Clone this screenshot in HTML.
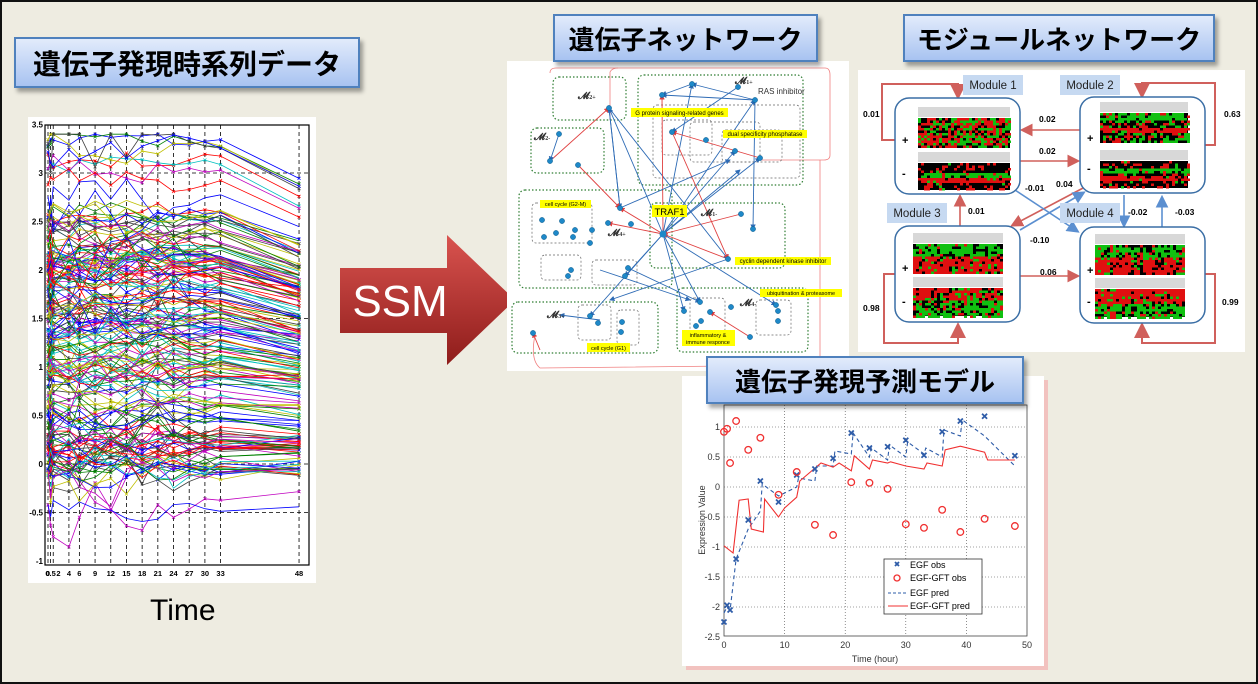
<!DOCTYPE html>
<html><head><meta charset="utf-8"><style>
html,body{margin:0;padding:0;}
body{width:1258px;height:684px;overflow:hidden;background:#eeece1;font-family:"Liberation Sans","Noto Sans CJK JP",sans-serif;}
#frame{position:absolute;left:0;top:0;width:1254px;height:680px;border:2px solid #111;}
.title{position:absolute;background:linear-gradient(#e2ebfb,#a8c3f1);border:2px solid #4f81bd;box-shadow:3px 4px 4px rgba(0,0,0,0.35);font-weight:bold;color:#000;font-family:"Liberation Sans","Noto Sans CJK JP",sans-serif;display:flex;align-items:center;justify-content:center;box-sizing:border-box;white-space:nowrap;}
svg{position:absolute;left:0;top:0;}
</style></head><body>
<div id="frame"></div>
<svg id="s" width="1258" height="684" xmlns="http://www.w3.org/2000/svg" font-family="Liberation Sans, sans-serif">
<defs>
<linearGradient id="ar" x1="0" y1="0" x2="0" y2="1"><stop offset="0" stop-color="#d9534f"/><stop offset="1" stop-color="#8e1c1a"/></linearGradient>
<marker id="mb" markerWidth="6" markerHeight="6" refX="5" refY="3" orient="auto"><path d="M0,0 L6,3 L0,6 z" fill="#2e6bb5"/></marker>
<marker id="mr" markerWidth="6" markerHeight="6" refX="5" refY="3" orient="auto"><path d="M0,0 L6,3 L0,6 z" fill="#e04040"/></marker>
<marker id="mbb" markerWidth="8" markerHeight="8" refX="6" refY="4" orient="auto"><path d="M0,0 L8,4 L0,8 z" fill="#5b8fd0"/></marker>
<marker id="mrr" markerWidth="8" markerHeight="8" refX="6" refY="4" orient="auto"><path d="M0,0 L8,4 L0,8 z" fill="#d0605c"/></marker>
</defs>
<rect x="28" y="117" width="288" height="466" fill="#fff"/>
<g id="left"></g>
<text x="150" y="620" font-size="30" fill="#000">Time</text>
<polygon points="340,268 447,268 447,235 515,300 447,365 447,333 340,333" fill="url(#ar)"/>
<text x="400" y="316" font-size="44" fill="#fff" text-anchor="middle">SSM</text>
<rect x="507" y="61" width="342" height="310" fill="#fff"/>
<g id="net"></g>
<rect x="858" y="70" width="387" height="282" fill="#fff"/>
<g id="mod"></g>
<rect x="686" y="380" width="362" height="290" fill="#f4b0b0" opacity="0.7"/>
<rect x="682" y="376" width="362" height="290" fill="#fff"/>
<g id="pred"></g>
</svg>
<div class="title" style="left:14px;top:37px;width:346px;height:51px;font-size:28px;">遺伝子発現時系列データ</div>
<div class="title" style="left:553px;top:14px;width:265px;height:48px;font-size:26px;">遺伝子ネットワーク</div>
<div class="title" style="left:903px;top:14px;width:312px;height:48px;font-size:26px;">モジュールネットワーク</div>
<div class="title" style="left:706px;top:356px;width:318px;height:48px;font-size:26px;">遺伝子発現予測モデル</div>
<script>
var seed=7;function R(){seed=(seed*16807)%2147483647;return (seed-1)/2147483646;}
function $(id){return document.getElementById(id);}
(function(){
var s='';var T=[0,0.5,1,4,6,9,12,15,18,21,24,27,30,33,48];
function X(t){return 48+t*5.23;} function Y(v){return 464-v*97;}
s+='<rect x="45" y="125" width="264" height="440" fill="none" stroke="#000" stroke-width="1.2"/>';
T.forEach(function(t){s+='<line x1="'+X(t)+'" y1="125" x2="'+X(t)+'" y2="565" stroke="#000" stroke-dasharray="4,3" stroke-width="0.8"/>';});
[3,1.5,0,-0.5].forEach(function(v){s+='<line x1="45" y1="'+Y(v)+'" x2="309" y2="'+Y(v)+'" stroke="#000" stroke-dasharray="4,3" stroke-width="0.8"/>';});
var cols=['#0000ff','#008000','#ff0000','#00bfbf','#bf00bf','#bfbf00','#404040'];
for(var i=0;i<200;i++){
 var b;var r=R();
 if(i<8)b=2.9+R()*0.45;else if(r<0.85)b=-0.1+R()*2.7;else b=-0.5+R()*3.5;
 var big=R()<0.2;
 var p='';var mk='';var c=cols[i%7];var prev=b;
 for(var k=0;k<T.length;k++){
  var amp=(k>0&&k<11)?(big?0.3:0.12):0.06;
  var v=0.5*prev+0.5*b+(R()-0.5)*amp*2;
  if(k==14)v=b*0.88+(R()-0.5)*0.15;
  if(v>3.4)v=3.4;if(v<-0.95)v=-0.95;prev=v;
  var x=X(T[k]),y=Y(v);p+=(k?' L':'M')+x.toFixed(1)+','+y.toFixed(1);
  if(i<120)mk+='<path d="M'+(x-1.5)+','+(y-1.5)+'l3,3m0,-3l-3,3" stroke="'+c+'" stroke-width="0.7"/>';
 }
 s+='<path d="'+p+'" fill="none" stroke="'+c+'" stroke-width="0.8"/>'+mk;
}
var yl=[['3.5',3.5],['3',3],['2.5',2.5],['2',2],['1.5',1.5],['1',1],['0.5',0.5],['0',0],['-0.5',-0.5],['-1',-1]];
yl.forEach(function(a){s+='<text x="43" y="'+(Y(a[1])+3)+'" font-size="8" font-weight="bold" text-anchor="end">'+a[0]+'</text>';});
var xl=[[0,'0'],[0.5,'0.5'],[2,'2'],[4,'4'],[6,'6'],[9,'9'],[12,'12'],[15,'15'],[18,'18'],[21,'21'],[24,'24'],[27,'27'],[30,'30'],[33,'33'],[48,'48']];
xl.forEach(function(a){s+='<text x="'+X(a[0])+'" y="576" font-size="7.5" font-weight="bold" text-anchor="middle">'+a[1]+'</text>';});
$('left').innerHTML=s;
})();
(function(){
var s='';
s+='<path d="M550,73 Q550,68 556,68 L825,68 Q830,68 830,75 L830,155 Q830,160 824,160 L760,160" fill="none" stroke="#f08080" stroke-width="0.8"/>';
s+='<path d="M610,120 L610,72 Q612,68 618,68" fill="none" stroke="#f08080" stroke-width="0.8"/>';
s+='<path d="M820,160 L820,365 L540,368 Q530,360 535,335" fill="none" stroke="#f08080" stroke-width="0.8"/>';
var boxes=[[553,77,73,43],[638,75,165,110],[531,128,73,45],[519,190,153,98],[650,203,135,65],[512,302,146,51],[677,288,131,64]];
boxes.forEach(function(b){s+='<rect x="'+b[0]+'" y="'+b[1]+'" width="'+b[2]+'" height="'+b[3]+'" rx="6" fill="none" stroke="#2e7d32" stroke-width="1.2" stroke-dasharray="1.5,2"/>';});
var gb=[[653,105,147,73],[662,120,50,35],[690,122,70,40],[722,130,60,32],[532,203,60,40],[541,255,40,25],[592,260,45,25],[690,298,35,35],[756,300,35,35],[578,305,33,35],[617,310,22,35]];
gb.forEach(function(b){s+='<rect x="'+b[0]+'" y="'+b[1]+'" width="'+b[2]+'" height="'+b[3]+'" rx="4" fill="none" stroke="#666" stroke-width="0.7" stroke-dasharray="2,2"/>';});
var nodes=[[692,84],[738,87],[662,95],[755,100],[609,108],[559,134],[550,161],[578,165],[672,132],[706,140],[735,151],[760,158],[620,208],[663,234],[741,214],[753,229],[728,259],[542,220],[562,221],[575,230],[592,230],[608,223],[631,224],[573,237],[556,233],[544,237],[590,243],[571,270],[568,276],[628,268],[625,276],[590,316],[598,323],[622,322],[621,332],[533,333],[684,311],[700,302],[710,312],[701,321],[731,307],[776,305],[778,311],[778,321],[750,337],[696,326]];
var L=[[663,234,692,84,'b'],[663,234,755,100,'b'],[663,234,609,108,'b'],[663,234,735,151,'b'],[663,234,760,158,'b'],[663,234,620,208,'r'],[741,214,663,234,'r'],[728,259,663,234,'r'],[663,234,700,302,'b'],[663,234,776,305,'b'],[663,234,684,311,'b'],[663,234,590,316,'b'],[663,234,625,276,'b'],[663,234,608,223,'r'],[609,108,728,259,'b'],[609,108,620,208,'b'],[620,208,609,108,'b'],[550,161,609,108,'r'],[559,134,550,161,'b'],[578,165,620,208,'r'],[692,84,662,95,'b'],[755,100,662,95,'b'],[755,100,692,84,'b'],[755,100,753,229,'b'],[738,87,672,132,'b'],[663,234,662,95,'r'],[672,132,728,259,'r'],[760,158,672,132,'r'],[728,259,610,300,'b'],[600,320,560,315,'b'],[628,268,700,302,'b'],[600,270,690,300,'b'],[750,337,710,312,'r'],[540,350,533,333,'r'],[620,208,730,160,'b'],[663,234,740,170,'b']];
L.forEach(function(l){var c=l[4]=='b'?'#2e6bb5':'#e04040';s+='<line x1="'+l[0]+'" y1="'+l[1]+'" x2="'+l[2]+'" y2="'+l[3]+'" stroke="'+c+'" stroke-width="0.9" marker-end="url(#m'+l[4]+')"/>';});
nodes.forEach(function(n){s+='<circle cx="'+n[0]+'" cy="'+n[1]+'" r="2.6" fill="#1e88c8" stroke="#0b5a8a" stroke-width="0.5"/>';});
s+='<circle cx="663" cy="234" r="3.5" fill="#1e88c8"/>';
var yl=[[652,205,35,12,'TRAF1',9.5],[631,108,97,9,'G protein signaling-related genes',6],[723,130,84,8,'dual specificity phosphatase',6],[540,200,51,8,'cell cycle (G2-M)',5.5],[735,257,96,8,'cyclin dependent kinase inhibitor',6],[760,289,82,8,'ubiquitination &amp; proteasome',5.5],[587,343,43,9,'cell cycle (G1)',5.5]];
yl.forEach(function(y){s+='<rect x="'+y[0]+'" y="'+y[1]+'" width="'+y[2]+'" height="'+y[3]+'" fill="#ffff00"/><text x="'+(y[0]+y[2]/2)+'" y="'+(y[1]+y[3]-2)+'" font-size="'+y[5]+'" text-anchor="middle">'+y[4]+'</text>';});
s+='<rect x="682" y="330" width="53" height="16" fill="#ffff00"/><text x="708" y="337" font-size="5.5" text-anchor="middle">inflammatory &amp;</text><text x="708" y="344" font-size="5.5" text-anchor="middle">immune responce</text>';
s+='<text x="758" y="94" font-size="8" fill="#333">RAS inhibitor</text>';
var ml=[[578,99,'M2+'],[735,84,'M1+'],[534,140,'M2-'],[608,236,'M4+'],[701,216,'M1-'],[547,318,'M3+'],[740,306,'M4-']];
ml.forEach(function(m){s+='<text x="'+m[0]+'" y="'+m[1]+'" font-size="10" font-family="Liberation Serif,serif" font-weight="bold" fill="#333">𝓜<tspan font-size="6">'+m[2].slice(1)+'</tspan></text>';});
$('net').innerHTML=s;
})();
(function(){
var s='';
function heat(x,y,w,h,mode){
 var o='<rect x="'+x+'" y="'+(y-11)+'" width="'+w+'" height="10" fill="#d8d8d8"/>';
 o+='<rect x="'+x+'" y="'+y+'" width="'+w+'" height="'+h+'" fill="#000"/>';
 var cw=3,ch=2.5;
 for(var yy=0;yy<h-0.1;yy+=ch)for(var xx=0;xx<w-0.1;xx+=cw){
  var r=R(),c=null;
  var bias=mode(yy/h,xx/w);
  if(r<bias[0])c='#e01010';else if(r<bias[0]+bias[1])c='#10c010';
  if(c)o+='<rect x="'+(x+xx)+'" y="'+(y+yy)+'" width="'+cw+'" height="'+ch+'" fill="'+c+'"/>';
 }
 return o;
}
function box(x,y){return '<rect x="'+x+'" y="'+y+'" width="125" height="96" rx="14" fill="#fff" stroke="#3a6ea5" stroke-width="1.5"/>';}
var red='#d0605c',blue='#5b8fd0';
s+='<path d="M895,140 L882,140 L882,84 L958,84 L958,96" fill="none" stroke="'+red+'" stroke-width="2" marker-end="url(#mrr)"/>';
s+='<path d="M1203,145 L1215,145 L1215,83 L1142,83 L1142,95" fill="none" stroke="'+red+'" stroke-width="2" marker-end="url(#mrr)"/>';
s+='<path d="M895,274 L884,274 L884,343 L958,343 L958,326" fill="none" stroke="'+red+'" stroke-width="2" marker-end="url(#mrr)"/>';
s+='<path d="M1205,274 L1215,274 L1215,343 L1142,343 L1142,326" fill="none" stroke="'+red+'" stroke-width="2" marker-end="url(#mrr)"/>';
s+='<line x1="1080" y1="130" x2="1023" y2="130" stroke="'+red+'" stroke-width="1.6" marker-end="url(#mrr)"/>';
s+='<line x1="1020" y1="161" x2="1077" y2="161" stroke="'+red+'" stroke-width="1.6" marker-end="url(#mrr)"/>';
s+='<line x1="1020" y1="276" x2="1077" y2="276" stroke="'+red+'" stroke-width="1.6" marker-end="url(#mrr)"/>';
s+='<line x1="960" y1="226" x2="960" y2="197" stroke="'+red+'" stroke-width="1.6" marker-end="url(#mrr)"/>';
s+='<line x1="1085" y1="187" x2="1013" y2="225" stroke="'+red+'" stroke-width="1.6" marker-end="url(#mrr)"/>';
s+='<line x1="1015" y1="190" x2="1077" y2="231" stroke="'+blue+'" stroke-width="1.6" marker-end="url(#mbb)"/>';
s+='<line x1="1020" y1="230" x2="1083" y2="193" stroke="'+blue+'" stroke-width="1.6" marker-end="url(#mbb)"/>';
s+='<line x1="1124" y1="195" x2="1124" y2="225" stroke="'+blue+'" stroke-width="1.6" marker-end="url(#mbb)"/>';
s+='<line x1="1162" y1="227" x2="1162" y2="198" stroke="'+blue+'" stroke-width="1.6" marker-end="url(#mbb)"/>';
s+=box(895,98)+box(1080,97)+box(895,226)+box(1080,227);
var A=function(){return [0.4,0.35];};
s+=heat(918,118,92,30,A);
s+=heat(918,163,92,27,function(a){return a>0.3&&a<0.5?[0.1,0.7]:a>0.55&&a<0.7?[0.8,0.05]:[0.25,0.05];});
s+=heat(1100,113,88,30,function(a){return a<0.25?[0.1,0.75]:a>0.45&&a<0.6?[0.8,0.05]:[0.2,0.3];});
s+=heat(1100,161,88,27,function(a){return a>0.25&&a<0.45?[0.05,0.8]:a>0.5&&a<0.65?[0.8,0.05]:[0.3,0.05];});
s+=heat(913,244,90,30,function(a){return a<0.35?[0.1,0.7]:[0.7,0.15];});
s+=heat(913,288,90,28,function(a){return a<0.4?[0.6,0.2]:[0.2,0.55];});
s+=heat(1095,245,90,30,function(a){return a<0.4?[0.15,0.55]:[0.7,0.1];});
s+=heat(1095,289,90,28,function(a){return a<0.45?[0.75,0.1]:[0.15,0.6];});
[[902,144,'+'],[902,177,'-'],[1087,142,'+'],[1087,172,'-'],[902,272,'+'],[902,305,'-'],[1087,274,'+'],[1087,305,'-']].forEach(function(p){s+='<text x="'+p[0]+'" y="'+p[1]+'" font-size="11" font-weight="bold">'+p[2]+'</text>';});
[[963,75,'Module 1'],[1060,75,'Module 2'],[887,203,'Module 3'],[1060,203,'Module 4']].forEach(function(m){s+='<rect x="'+m[0]+'" y="'+m[1]+'" width="60" height="20" fill="#c6d9f1"/><text x="'+(m[0]+30)+'" y="'+(m[1]+14)+'" font-size="11.5" text-anchor="middle" fill="#222">'+m[2]+'</text>';});
[[863,117,'0.01'],[1039,122,'0.02'],[1039,154,'0.02'],[1224,117,'0.63'],[1056,187,'0.04'],[1025,191,'-0.01'],[968,214,'0.01'],[1128,215,'-0.02'],[1175,215,'-0.03'],[1030,243,'-0.10'],[1040,275,'0.06'],[863,311,'0.98'],[1222,305,'0.99']].forEach(function(t){s+='<text x="'+t[0]+'" y="'+t[1]+'" font-size="8.5" font-weight="bold">'+t[2]+'</text>';});
$('mod').innerHTML=s;
})();
(function(){
var s='';function X(t){return 724+t*6.06;}function Y(v){return 487-v*60;}
s+='<rect x="724" y="405" width="303" height="231" fill="none" stroke="#444" stroke-width="0.8"/>';
for(var t=10;t<50;t+=10)s+='<line x1="'+X(t)+'" y1="405" x2="'+X(t)+'" y2="636" stroke="#444" stroke-width="0.6" stroke-dasharray="1,2"/>';
for(var v=-2;v<=1;v+=0.5)s+='<line x1="724" y1="'+Y(v)+'" x2="1027" y2="'+Y(v)+'" stroke="#444" stroke-width="0.6" stroke-dasharray="1,2"/>';
for(var t=0;t<=50;t+=10)s+='<text x="'+X(t)+'" y="648" font-size="9" text-anchor="middle" fill="#333">'+t+'</text>';
[1,0.5,0,-0.5,-1,-1.5,-2,-2.5].forEach(function(v){s+='<text x="720" y="'+(Y(v)+3)+'" font-size="9" text-anchor="end" fill="#333">'+v+'</text>';});
s+='<text x="875" y="662" font-size="9" text-anchor="middle" fill="#333">Time (hour)</text>';
s+='<text x="0" y="0" font-size="9" text-anchor="middle" fill="#333" transform="translate(705,520) rotate(-90)">Expression Value</text>';
var rp=[[0,-0.98],[1.5,-1.1],[2.5,-0.22],[4,-0.2],[4.5,-0.7],[6.5,-0.75],[6.7,-0.2],[9,-0.5],[10,-0.35],[12,-0.17],[12.5,0.1],[16,0.4],[18,0.33],[19,0.4],[21,0.27],[21.5,0.52],[24,0.3],[24.5,0.45],[27,0.4],[27.5,0.42],[30,0.35],[33,0.3],[33.5,0.4],[36,0.35],[36.5,0.62],[39,0.68],[43,0.58],[43.5,0.45],[48,0.45]];
var bp=[[0,-2.1],[0.5,-2.0],[1,-2.05],[2,-1.2],[4,-0.7],[6,-0.4],[6.3,0.05],[9,-0.15],[12,0],[12.3,0.15],[15,0.1],[15.3,0.35],[18,0.35],[18.3,0.6],[21,0.55],[21.3,0.9],[24,0.5],[24.3,0.65],[27,0.45],[27.3,0.7],[30,0.5],[30.3,0.75],[33,0.55],[33.3,0.65],[36,0.5],[36.3,0.95],[39,0.85],[39.3,1.12],[43,0.85],[48,0.35]];
function path(a){return a.map(function(p,i){return (i?'L':'M')+X(p[0]).toFixed(1)+','+Y(p[1]).toFixed(1);}).join(' ');}
s+='<path d="'+path(bp)+'" fill="none" stroke="#2e5ca8" stroke-width="1.1" stroke-dasharray="4,3"/>';
s+='<path d="'+path(rp)+'" fill="none" stroke="#f03030" stroke-width="1.1"/>';
var eo=[[0,-2.25],[0.5,-1.97],[1,-2.05],[2,-1.2],[4,-0.55],[6,0.1],[9,-0.25],[12,0.2],[15,0.3],[18,0.48],[21,0.9],[24,0.65],[27,0.67],[30,0.78],[33,0.53],[36,0.92],[39,1.1],[43,1.18],[48,0.52]];
var go=[[0,0.92],[0.5,0.97],[1,0.4],[2,1.1],[4,0.62],[6,0.82],[9,-0.13],[12,0.25],[15,-0.63],[18,-0.8],[21,0.08],[24,0.07],[27,-0.03],[30,-0.62],[33,-0.68],[36,-0.38],[39,-0.75],[43,-0.53],[48,-0.65]];
eo.forEach(function(p){var x=X(p[0]),y=Y(p[1]);s+='<path d="M'+(x-2.5)+','+(y-2.5)+'l5,5m0,-5l-5,5" stroke="#2e5ca8" stroke-width="1.8"/>';});
go.forEach(function(p){s+='<circle cx="'+X(p[0])+'" cy="'+Y(p[1])+'" r="3.3" fill="none" stroke="#f03030" stroke-width="1.3"/>';});
s+='<rect x="884" y="559" width="98" height="55" fill="#fff" stroke="#333" stroke-width="0.8"/>';
s+='<path d="M895,562 l4,4m0,-4l-4,4" stroke="#2e5ca8" stroke-width="1.8"/><text x="910" y="568" font-size="9">EGF obs</text>';
s+='<circle cx="897" cy="578" r="3" fill="none" stroke="#f03030" stroke-width="1.3"/><text x="910" y="581" font-size="9">EGF-GFT obs</text>';
s+='<line x1="888" y1="593" x2="908" y2="593" stroke="#2e5ca8" stroke-dasharray="3,2"/><text x="910" y="596" font-size="9">EGF pred</text>';
s+='<line x1="888" y1="606" x2="908" y2="606" stroke="#f03030"/><text x="910" y="609" font-size="9">EGF-GFT pred</text>';
$('pred').innerHTML=s;
})();
</script>
</body></html>
